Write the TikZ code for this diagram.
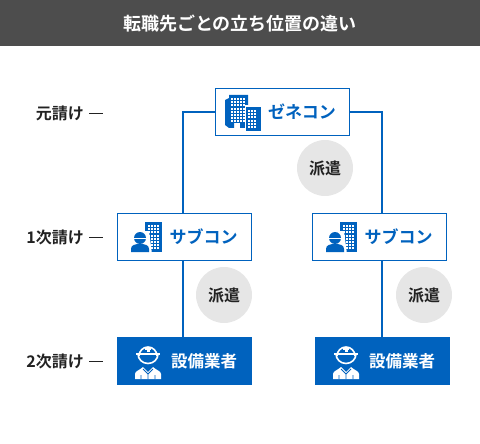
\documentclass[tikz,border=0pt]{standalone}
\usepackage{fontspec}
\setmainfont{Noto Sans CJK JP}[BoldFont={Noto Sans CJK JP Bold}]
\usetikzlibrary{positioning, calc}
\definecolor{mainblue}{HTML}{0062BE}
\definecolor{headgray}{HTML}{4D4D4D}
\definecolor{badgegray}{HTML}{E6E6E6}
\definecolor{inktext}{HTML}{222222}
\newcommand{\towerrow}[4]{% x, y, columns, rows
    \foreach \cx in {1,...,#3} \foreach \cy in {1,...,#4}
        \fill [white] ({#1+(\cx-1)*3.2},{#2+(\cy-1)*3.2}) rectangle ++(2,2);
}
\begin{document}
\begin{tikzpicture}[
    x=1pt, y=-1pt,
    whitebox/.style={draw=mainblue, line width=1pt, fill=white, minimum width=134pt, minimum height=47pt, inner sep=0pt},
    bluebox/.style={fill=mainblue, minimum width=135pt, minimum height=48pt, inner sep=0pt},
    boxlabel/.style={font=\fontsize{17}{17}\selectfont\bfseries, text=mainblue, inner sep=0pt},
    siteword/.style={font=\fontsize{16.5}{17}\selectfont\bfseries, text=white, inner sep=0pt},
    badge/.style={circle, fill=badgegray, minimum size=56pt, inner sep=0pt, font=\fontsize{16}{16}\selectfont\bfseries, text=inktext},
    rowlabel/.style={font=\fontsize{16}{16}\selectfont\bfseries, text=inktext, inner sep=0pt, anchor=east},
    link/.style={draw=mainblue, line width=2pt},
    tick/.style={draw=inktext, line width=0.7pt}
]
    \useasboundingbox (0,0) rectangle (480,444);

    % Header
    \fill [headgray] (0,0) rectangle (480,46);
    \node (title) [font=\fontsize{18}{18}\selectfont\bfseries, text=white, inner sep=0pt] at (240,24) {転職先ごとの立ち位置の違い};

    % Boxes
    \node (gene) [whitebox] at (282.5,112) {};
    \node (subl) [whitebox] at (184.5,237) {};
    \node (subr) [whitebox] at (379.5,237) {};
    \node (instl) [bluebox] at (184.5,361) {};
    \node (instr) [bluebox] at (382.5,361) {};

    % Connections
    \draw [link] (gene.west) -| ([xshift=-1.5pt]subl.north);
    \draw [link] (gene.east) -| ([xshift=2.5pt]subr.north);
    \draw [link] ([xshift=-1.5pt]subl.south) -- ([xshift=-1.5pt]instl.north);
    \draw [link] ([xshift=2.5pt]subr.south) -- ([xshift=-0.5pt]instr.north);

    % Badges
    \node (hakena) [badge] at (325,168) {派遣};
    \node (hakenb) [badge] at (224,295) {派遣};
    \node (hakenc) [badge] at (424,295) {派遣};

    % Box labels
    \node (genetext) [boxlabel] at (302,112) {ゼネコン};
    \node (subltext) [boxlabel] at (203.5,237) {サブコン};
    \node (subrtext) [boxlabel] at (398.5,237) {サブコン};
    \node (instltext) [siteword] at (204,361) {設備業者};
    \node (instrtext) [siteword] at (402,361) {設備業者};

    % Row labels
    \node (rowa) [rowlabel] at (84,113) {元請け};
    \node (rowb) [rowlabel] at (84,237) {1次請け};
    \node (rowc) [rowlabel] at (84,361) {2次請け};
    \draw [tick] ([xshift=5pt]rowa.east) -- ++(14,0);
    \draw [tick] ([xshift=5pt]rowb.east) -- ++(14,0);
    \draw [tick] ([xshift=5pt]rowc.east) -- ++(14,0);

    % Building icon
    \fill [mainblue] (225,100) -- (229,98) -- (229,95) -- (248,95) -- (248,107) -- (246,107) -- (246,128) -- (240,128) -- (240,123) -- (234,123) -- (234,128) -- (229,128) -- (225,125) -- cycle;
    \towerrow{230.5}{98}{5}{8}
    \fill [white] (244.5,105.5) rectangle (262.5,133);
    \fill [mainblue] (246,107) rectangle (261,131.5);
    \towerrow{248}{110}{3}{6}

    % Sub contractor icons
    \foreach \ox in {0,195}{
        \begin{scope}[xshift=\ox pt]
            \fill [mainblue] (145,222) rectangle (162,252);
            \towerrow{147.5}{225}{4}{8}
            \fill [white] (128.5,254) -- (128.5,231) -- (149,231) -- (152,254) -- cycle;
            \fill [mainblue] (131,252) -- (131,249) .. controls (131,245) and (135,244) .. (140,244) .. controls (145,244) and (149,245) .. (149,249) -- (149,252) -- cycle;
            \fill [mainblue] (140,238) circle (6);
            \draw [white, line width=0.7pt] (132.5,238) -- (147.5,238);
        \end{scope}
    }

    % Installer icons
    \foreach \ox in {0,198}{
        \begin{scope}[xshift=\ox pt]
            \draw [white, line width=1.6pt] (139,356) arc (180:360:9 and 9);
            \draw [white, line width=1.6pt] (138,354) arc (180:0:10 and 9.5);
            \fill [white] (136,352.5) rectangle (160,355);
            \fill [white] (146.5,346.5) rectangle (149.5,351.5);
            \fill [white] (145,348) rectangle (151,350);
            \fill [white] (135,379) -- (135,374) .. controls (135,371) and (140,370) .. (143,367) -- (148,372) -- (153,367) .. controls (156,370) and (161,371) .. (161,374) -- (161,379) -- cycle;
            \draw [mainblue, line width=0.8pt] (143,369) -- (148,374) -- (153,369) (148,374) -- (148,379) (141,375) -- (141,379) (155,375) -- (155,379);
        \end{scope}
    }
\end{tikzpicture}
\end{document}
